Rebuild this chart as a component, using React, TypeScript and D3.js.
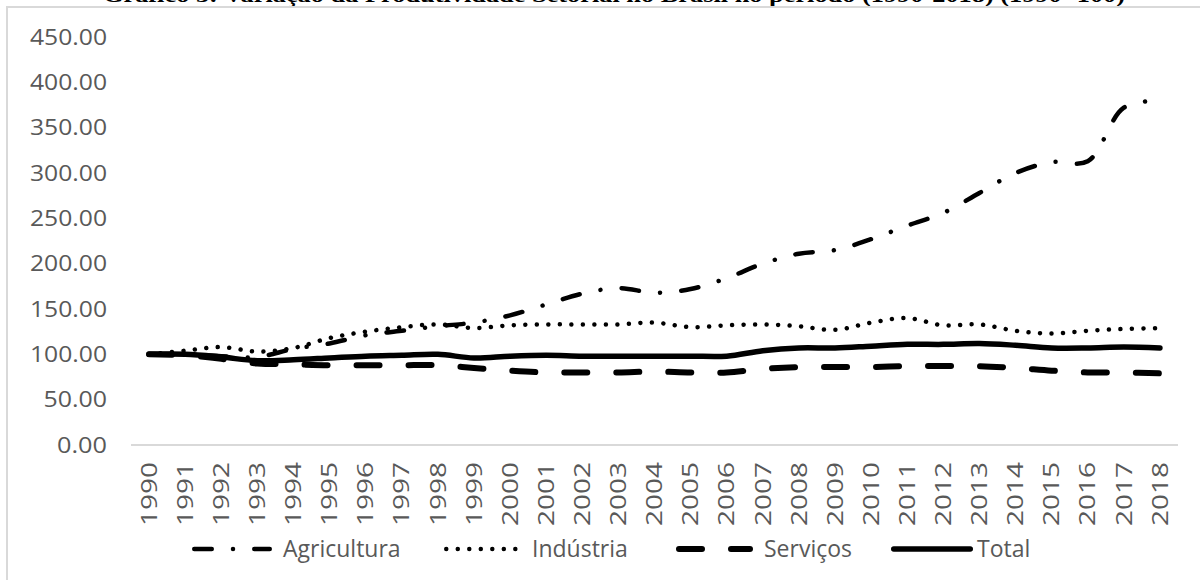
import React from "react";
import * as d3 from "d3";

// Produtividade setorial, índice 1990 = 100
const years = [
  "1990", "1991", "1992", "1993", "1994", "1995", "1996", "1997", "1998", "1999",
  "2000", "2001", "2002", "2003", "2004", "2005", "2006", "2007", "2008", "2009",
  "2010", "2011", "2012", "2013", "2014", "2015", "2016", "2017", "2018",
];
const agricultura = [
  100, 100, 98, 97, 106, 112, 121, 126, 131, 135,
  143, 155, 167, 173, 168, 172, 184, 200, 211, 215,
  227, 242, 256, 278, 300, 312, 313, 372, 380,
];
const industria = [
  100, 104, 108, 103, 107, 118, 125, 130, 133, 129,
  132, 133, 133, 133, 135, 130, 132, 133, 131, 127,
  135, 140, 132, 133, 126, 123, 126, 128, 129,
];
const servicos = [
  100, 99, 95, 90, 89, 88, 88, 88, 88, 85,
  82, 80, 80, 80, 81, 80, 80, 84, 86, 86,
  86, 87, 87, 87, 85, 82, 80, 80, 79,
];
const total = [
  100, 100, 97, 93, 94, 96, 98, 99, 100, 96,
  98, 99, 98, 98, 98, 98, 98, 104, 107, 107,
  109, 111, 111, 112, 110, 107, 107, 108, 107,
];
const yTicks = [0, 50, 100, 150, 200, 250, 300, 350, 400, 450];
const seriesNames = ["Agricultura", "Indústria", "Serviços", "Total"];

const TITLE =
  "Gráfico 3: Variação da Produtividade Setorial no Brasil no período (1990-2018) (1990=100)";

type Style = { width: number; dash?: string };
const styles: Style[] = [
  { width: 4.5, dash: "17.5 21.25 0.01 21.25" },
  { width: 4.5, dash: "0.01 11.5" },
  { width: 6, dash: "23 29" },
  { width: 5.5 },
];

const FONT = "'Open Sans', sans-serif";
const TEXT = "#595959";

// wide axis lettering: fixed advance per digit and per decimal point
const tickLength = (s: string) =>
  s.split("").reduce((acc, ch) => acc + (ch === "." ? 9.5 : 13.5), 0);

export default function App() {
  const W = 1200;
  const H = 580;

  const x = d3.scaleBand<string>().domain(years).range([131, 1178]);
  const y = d3.scaleLinear().domain([0, 450]).range([445, 37]);
  const cx = (yr: string) => (x(yr) ?? 0) + x.bandwidth() / 2;

  const line = d3
    .line<number>()
    .x((_, i) => cx(years[i]))
    .y((d) => y(d))
    .curve(d3.curveCatmullRom.alpha(0.5));

  const data = [agricultura, industria, servicos, total];

  // legend: sample line start/end and text start
  const legend = [
    { x0: 192, x1: 272, tx: 283 },
    { x0: 444, x1: 518, tx: 532 },
    { x0: 676, x1: 753, tx: 764 },
    { x0: 891, x1: 973, tx: 977 },
  ];
  const legendY = 549;

  return (
    <div style={{ position: "fixed", left: 0, top: 0 }}>
      <svg width={W} height={H} style={{ display: "block", background: "#fff" }}>
        <text
          x={103}
          y={2}
          fontFamily="'Liberation Serif', serif"
          fontWeight="bold"
          fontSize={20}
          textLength={1022}
          lengthAdjust="spacingAndGlyphs"
          fill="#000"
        >
          {TITLE}
        </text>
        <rect x={7} y={7} width={W + 20} height={H + 20} fill="#fff" stroke="#d9d9d9" strokeWidth={2} />

        {yTicks.map((t) => {
          const label = d3.format(".2f")(t);
          return (
            <text
              key={t}
              x={107}
              y={y(t)}
              dy="0.35em"
              textAnchor="end"
              fontFamily={FONT}
              fontSize={22}
              textLength={tickLength(label)}
              lengthAdjust="spacingAndGlyphs"
              fill={TEXT}
            >
              {label}
            </text>
          );
        })}

        <line x1={131} x2={1178} y1={y(0)} y2={y(0)} stroke="#d9d9d9" strokeWidth={2} />

        {years.map((yr) => (
          <text
            key={yr}
            transform={`translate(${cx(yr)},462) rotate(-90)`}
            dy="0.35em"
            textAnchor="end"
            fontFamily={FONT}
            fontSize={22}
            textLength={64}
            lengthAdjust="spacingAndGlyphs"
            fill={TEXT}
          >
            {yr}
          </text>
        ))}

        {data.map((vals, i) => (
          <path
            key={seriesNames[i]}
            d={line(vals) ?? ""}
            fill="none"
            stroke="#000"
            strokeWidth={styles[i].width}
            strokeDasharray={styles[i].dash}
            strokeLinecap="round"
            strokeLinejoin="round"
          />
        ))}

        {seriesNames.map((name, i) => (
          <g key={name}>
            <line
              x1={legend[i].x0 + styles[i].width / 2}
              x2={legend[i].x1 - styles[i].width / 2}
              y1={legendY}
              y2={legendY}
              stroke="#000"
              strokeWidth={styles[i].width}
              strokeDasharray={styles[i].dash}
              strokeLinecap="round"
            />
            <text
              x={legend[i].tx}
              y={legendY}
              dy="0.35em"
              fontFamily={FONT}
              fontSize={23}
              fill={TEXT}
            >
              {name}
            </text>
          </g>
        ))}
      </svg>
    </div>
  );
}
